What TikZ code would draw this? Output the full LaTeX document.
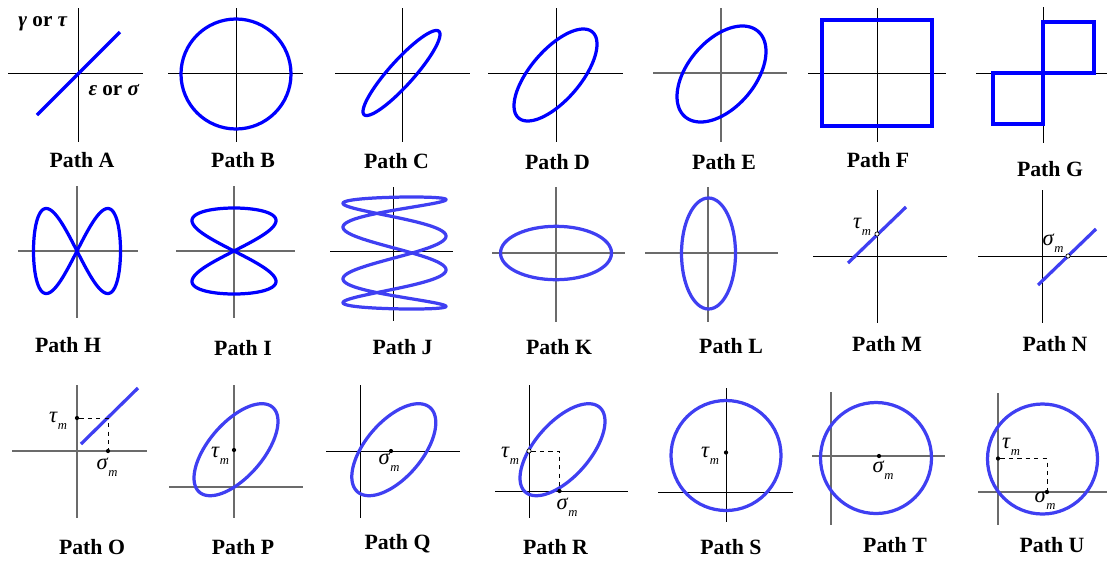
\documentclass[tikz,border=0pt]{standalone}
\usepackage{fontspec}
\setmainfont{Liberation Serif}
\usetikzlibrary{positioning}
\definecolor{cblue}{HTML}{0000FF}
\definecolor{clight}{HTML}{3F3FF2}
\definecolor{cgrey}{HTML}{6B6B6B}
\newcommand{\subm}[1]{\textit{#1}\raisebox{-0.7ex}{\fontsize{9}{9}\selectfont\textit{m}}}
\tikzset{
  every picture/.style={x=0.025cm, y=-0.025cm},
  axis/.style={draw=black, line width=0.6pt},
  axisgrey/.style={draw=cgrey, line width=0.9pt},
  load/.style={draw=#1, line width=2.3pt, line join=round},
  load/.default=cblue,
  pathlabel/.style={font=\fontsize{15.5}{18}\selectfont\bfseries, inner sep=0pt},
  axlabel/.style={font=\fontsize{15}{18}\selectfont\bfseries, inner sep=0pt},
  symlabel/.style={font=\fontsize{16}{18}\selectfont, inner sep=0pt},
  dot/.style={circle, fill=black, inner sep=0pt, minimum size=3pt},
  opendot/.style={circle, draw=black, fill=white, line width=0.5pt, inner sep=0pt, minimum size=3pt},
}

\begin{document}
\begin{tikzpicture}
  \useasboundingbox (0,0) rectangle (1108,560);
  % Path A
  \draw[axis] (78,8) -- (78,142);
  \draw[axis] (8,73) -- (143,73);
  \draw[load] (37,115) -- (120,32);
  \node[axlabel] (ya) at (43,24) {\textit{γ} or \textit{τ}};
  \node[axlabel] (xa) at (114,90) {\textit{ε} or \textit{σ}};
  \node[pathlabel] (pa) at (82,160) {Path A};
  % Path B
  \draw[axis] (236,8) -- (236,142);
  \draw[axis] (168,73) -- (303,73);
  \draw[load] (236,74) circle [radius=55];
  \node[pathlabel] (pb) at (243,160) {Path B};
  % Path C
  \draw[axis] (402,8) -- (402,142);
  \draw[axis] (335,73) -- (470,73);
  \draw[load] plot[domain=0:356, samples=90, smooth cycle] ({401.5+38.5*sin(\x)}, {73-42.5*sin(\x+25)});
  \node[pathlabel] (pc) at (396.5,161) {Path C};
  % Path D
  \draw[axis] (556,8) -- (556,142);
  \draw[axis] (488,73) -- (623,73);
  \draw[load] plot[domain=0:356, samples=90, smooth cycle] ({555.5+41.5*sin(\x)}, {75-46*sin(\x+48)});
  \node[pathlabel] (pd) at (557.5,162) {Path D};
  % Path E
  \draw[axisgrey] (721,8) -- (721,142);
  \draw[axisgrey] (653,73) -- (787,73);
  \draw[load] plot[domain=0:356, samples=90, smooth cycle] ({721.5+44.5*sin(\x)}, {74-48*sin(\x+62)});
  \node[pathlabel] (pe) at (724,162) {Path E};
  % Path F
  \draw[axis] (877,8) -- (877,142);
  \draw[axis] (808,73) -- (946,73);
  \draw[load, line join=miter] (822,20) rectangle (932,126);
  \node[pathlabel] (pf) at (878,160) {Path F};
  % Path G
  \draw[axis] (1043,7) -- (1043,143);
  \draw[axis] (976,73) -- (1107,73);
  \draw[load, line join=miter] (1043,22) rectangle (1094,73);
  \draw[load, line join=miter] (993,73) rectangle (1043,124);
  \node[pathlabel] (pg) at (1050,169) {Path G};

  % Path H
  \draw[axisgrey] (77,186) -- (77,318);
  \draw[axisgrey] (18,251) -- (138,251);
  \draw[load] plot[domain=0:358, samples=180, smooth cycle] ({77+43.5*sin(\x)}, {251-42.5*sin(2*\x)});
  \node[pathlabel] (ph) at (68,345) {Path H};
  % Path I
  \draw[axisgrey] (234,186) -- (234,318);
  \draw[axisgrey] (176,251) -- (295,251);
  \draw[load] plot[domain=0:358, samples=180, smooth cycle] ({234+42*sin(2*\x)}, {251-43*sin(\x)});
  \node[pathlabel] (pi) at (243,348) {Path I};
  % Path J
  \draw[axis] (393,187) -- (393,321);
  \draw[axis] (330,251) -- (453,251);
  \draw[load=clight] plot[domain=0:359, samples=400, smooth cycle] ({394.5+51.5*sin(4*\x+20)}, {253-56*sin(\x)});
  \node[pathlabel] (pj) at (402.5,347) {Path J};
  % Path K
  \draw[axisgrey] (556,187) -- (556,322);
  \draw[axisgrey] (492,253) -- (625,253);
  \draw[load=clight] (556,253) ellipse [x radius=55.5, y radius=26.7];
  \node[pathlabel] (pk) at (559,347) {Path K};
  % Path L
  \draw[axisgrey] (708,187) -- (708,322);
  \draw[axisgrey] (645,253) -- (778,253);
  \draw[load=clight] (708.5,253.5) ellipse [x radius=27, y radius=55.5];
  \node[pathlabel] (pl) at (731,346) {Path L};
  % Path M
  \draw[axis] (877,190) -- (877,323);
  \draw[axis] (813,256) -- (947,256);
  \draw[load=clight] (848,263) -- (906,207);
  \node[opendot] (tm-m) at (877,234) {};
  \node[symlabel] (lm) at (862,227) {\subm{τ}};
  \node[pathlabel] (pm) at (887,344) {Path M};
  % Path N
  \draw[axis] (1042,190) -- (1042,323);
  \draw[axis] (978,256) -- (1107,256);
  \draw[load=clight] (1038,285) -- (1096,229);
  \node[opendot] (sm-n) at (1068,256) {};
  \node[symlabel] (ln) at (1053,243) {\subm{σ}};
  \node[pathlabel] (pn) at (1055,344) {Path N};

  % Path O
  \draw[axisgrey] (77,385) -- (77,518);
  \draw[axisgrey] (12,451) -- (147,451);
  \draw[load=clight] (81,444) -- (138,388);
  \node[dot] (tm-o) at (77,418) {};
  \node[dot] (sm-o) at (108,451) {};
  \draw[dashed, line width=0.6pt] (tm-o) -| (sm-o);
  \node[symlabel] (lot) at (58,421) {\subm{τ}};
  \node[symlabel] (los) at (107,467) {\subm{σ}};
  \node[pathlabel] (po) at (92,547) {Path O};
  % Path P
  \draw[axisgrey] (234,385) -- (234,518);
  \draw[axisgrey] (169,487) -- (303,487);
  \draw[load=clight] plot[domain=0:356, samples=90, smooth cycle] ({236+42*sin(\x)}, {449.7-46*sin(\x+52)});
  \node[dot] (tm-p) at (234,450) {};
  \node[symlabel] (lp) at (220,456) {\subm{τ}};
  \node[pathlabel] (pp) at (243,547) {Path P};
  % Path Q
  \draw[axis] (360,385) -- (360,518);
  \draw[axis] (326,451) -- (460,451);
  \draw[load=clight] plot[domain=0:356, samples=90, smooth cycle] ({393.8+42*sin(\x)}, {449.7-46*sin(\x+54)});
  \node[dot] (sm-q) at (391,451) {};
  \node[symlabel] (lq) at (389,462) {\subm{σ}};
  \node[pathlabel] (pq) at (397.5,544) {Path Q};
  % Path R
  \draw[axis] (529,385) -- (529,518);
  \draw[axis] (495,491) -- (628,491);
  \draw[load=clight] plot[domain=0:356, samples=90, smooth cycle] ({562.5+42.5*sin(\x)}, {449.7-46*sin(\x+52)});
  \node[opendot] (tm-r) at (529,451) {};
  \node[dot] (sm-r) at (559.5,491) {};
  \draw[dashed, line width=0.6pt] (tm-r) -| (sm-r);
  \node[symlabel] (lrt) at (510,456) {\subm{τ}};
  \node[symlabel] (lrs) at (567,507) {\subm{σ}};
  \node[pathlabel] (pr) at (555.5,547) {Path R};
  % Path S
  \draw[axis] (726,388) -- (726,522);
  \draw[axis] (658,492) -- (793,492);
  \draw[load=clight] (726,455.5) circle [radius=55];
  \node[dot] (tm-s) at (726,452.5) {};
  \node[symlabel] (ls) at (710,456) {\subm{τ}};
  \node[pathlabel] (ps) at (731,547) {Path S};
  % Path T
  \draw[axisgrey] (831,392) -- (831,525);
  \draw[axisgrey] (812,456) -- (945,456);
  \draw[load=clight] (876,458) circle [radius=55.5];
  \node[dot] (sm-t) at (879,456) {};
  \node[symlabel] (lt) at (883,470) {\subm{σ}};
  \node[pathlabel] (pt) at (895,545) {Path T};
  % Path U
  \draw[axisgrey] (998,393) -- (998,525);
  \draw[axisgrey] (978,492) -- (1107,492);
  \draw[load=clight] (1042.5,459) circle [radius=55];
  \node[dot] (tm-u) at (998,458.5) {};
  \node[dot] (sm-u) at (1047,492) {};
  \draw[dashed, line width=0.6pt] (tm-u) -| (sm-u);
  \node[symlabel] (lut) at (1011,447) {\subm{τ}};
  \node[symlabel] (lus) at (1045,500) {\subm{σ}};
  \node[pathlabel] (pu) at (1052,545) {Path U};
\end{tikzpicture}
\end{document}
